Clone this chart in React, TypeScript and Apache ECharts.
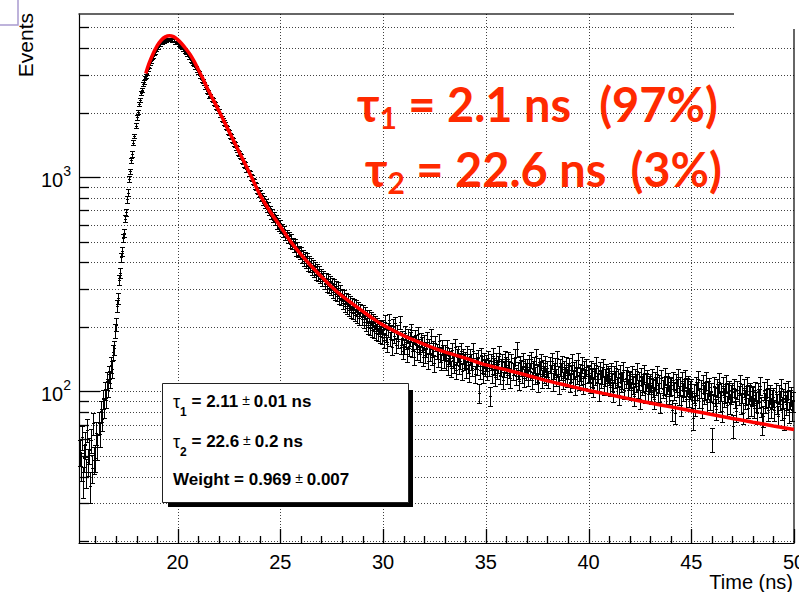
import React, { useEffect, useRef } from "react";
import * as echarts from "echarts";

// ---- axis ranges ----
const X_MIN = 15.2;
const X_MAX = 50;
const Y_MIN = 19.6;
const Y_MAX = 5780;

// ---- histogram (bin centres start at binStart, width binWidth) ----
const binStart = 15.25;
const binWidth = 0.05;
// 15.25 – 20.95 ns
const countsRise = [
  52, 45, 61, 38, 49, 57, 42, 66, 47, 53, 36, 59, 44, 71, 48,
  49, 64, 55, 72, 63, 81, 74, 92, 84, 101, 93, 112, 104, 121, 114, 133, 127, 152, 160, 192,
  205, 250, 272, 331, 356, 422, 451, 520, 548, 640, 688, 790, 848, 980, 1065, 1200, 1285, 1450, 1560, 1740,
  1900, 2010, 2195, 2290, 2470, 2560, 2720, 2785, 2925, 2975, 3060, 3205, 3280, 3415, 3480, 3610, 3675, 3790, 3840, 3940,
  4020, 4050, 4150, 4170, 4245, 4255, 4320, 4310, 4365, 4350, 4395, 4375, 4405, 4370, 4385, 4330, 4335, 4270, 4265, 4230,
  4230, 4150, 4140, 4060, 4050, 3960, 3945, 3850, 3840, 3745, 3725, 3630, 3615, 3515, 3490, 3385, 3360, 3265, 3245, 3160,
];
// 21.00 – 29.95 ns
const countsDecay = [
  3100, 3085, 2960, 2950, 2830, 2810, 2745, 2630, 2640, 2520, 2505, 2400, 2410, 2310, 2300, 2210, 2205, 2120, 2110, 2030,
  2035, 1960, 1945, 1880, 1855, 1800, 1770, 1715, 1695, 1640, 1620, 1570, 1550, 1500, 1480, 1435, 1415, 1370, 1355, 1310,
  1290, 1265, 1245, 1200, 1190, 1150, 1140, 1095, 1090, 1050, 1040, 1005, 995, 960, 950, 915, 905, 875, 865, 835,
  845, 800, 815, 770, 790, 745, 760, 715, 735, 690, 705, 665, 685, 645, 660, 625, 640, 600, 620, 585,
  605, 570, 580, 548, 566, 530, 546, 517, 531, 490, 520, 483, 498, 470, 492, 452, 478, 447, 455, 436,
  450, 418, 437, 405, 428, 398, 420, 386, 408, 380, 398, 370, 390, 360, 383, 350, 374, 345, 366, 338,
  355, 328, 346, 318, 340, 310, 335, 305, 327, 298, 320, 290, 316, 284, 310, 280, 305, 272, 298, 270,
  285, 258, 280, 250, 272, 246, 268, 240, 262, 236, 258, 232, 255, 228, 250, 224, 245, 220, 240, 218,
  238, 212, 232, 205, 226, 200, 224, 197, 219, 194, 214, 191, 210, 188, 206, 185, 202, 182, 199, 180,
];
// 30.00 – 49.95 ns
const countsTail = [
  201, 173, 212, 183, 166, 194, 216, 176, 190, 161, 203, 181, 208, 164, 190, 172, 210, 162, 178, 154,
  163, 188, 170, 149, 182, 159, 176, 193, 157, 168, 145, 180, 171, 153, 186, 162, 150, 175, 166, 144,
  170, 148, 158, 176, 139, 163, 151, 182, 145, 160, 135, 168, 154, 142, 172, 149, 137, 161, 153, 141,
  152, 138, 161, 131, 147, 143, 128, 156, 140, 134, 162, 126, 145, 150, 132, 139, 155, 124, 146, 137,
  141, 127, 150, 133, 122, 146, 137, 129, 155, 120, 139, 131, 144, 98, 126, 148, 134, 121, 140, 130,
  136, 124, 143, 129, 95, 138, 120, 147, 131, 117, 140, 126, 134, 151, 119, 130, 137, 113, 128, 142,
  133, 119, 141, 127, 115, 137, 124, 131, 145, 118, 158, 126, 112, 135, 129, 121, 139, 116, 130, 124,
  130, 117, 136, 124, 141, 113, 127, 133, 119, 146, 122, 110, 132, 126, 138, 115, 129, 121, 135, 118,
  128, 114, 133, 122, 139, 111, 125, 131, 117, 143, 120, 108, 130, 124, 135, 113, 127, 119, 133, 116,
  125, 131, 110, 122, 137, 114, 126, 106, 129, 119, 140, 112, 123, 118, 133, 108, 127, 115, 130, 121,
  122, 109, 128, 116, 104, 125, 118, 133, 111, 121, 100, 126, 114, 119, 130, 106, 117, 123, 109, 120,
  118, 105, 124, 111, 99, 120, 114, 128, 107, 116, 96, 122, 110, 113, 126, 102, 115, 119, 104, 112,
  114, 101, 120, 108, 95, 117, 110, 124, 103, 112, 92, 118, 106, 110, 122, 98, 111, 115, 100, 108,
  110, 97, 116, 104, 92, 113, 107, 121, 99, 109, 89, 115, 103, 107, 118, 95, 108, 111, 97, 105,
  107, 82, 113, 101, 79, 110, 104, 117, 96, 106, 86, 112, 100, 104, 115, 92, 105, 108, 94, 102,
  104, 91, 75, 98, 86, 107, 101, 114, 93, 103, 84, 109, 97, 101, 112, 89, 102, 105, 91, 99,
  60, 88, 106, 95, 83, 104, 98, 111, 90, 100, 81, 106, 94, 98, 109, 86, 99, 102, 88, 97,
  99, 69, 104, 93, 81, 102, 96, 109, 88, 98, 79, 104, 92, 96, 107, 84, 97, 100, 86, 95,
  96, 84, 101, 90, 79, 99, 93, 106, 85, 71, 77, 101, 89, 93, 104, 82, 94, 97, 84, 92,
  94, 82, 99, 88, 77, 97, 91, 104, 83, 93, 75, 99, 87, 91, 102, 80, 92, 95, 82, 90,
];

// ---- fit curve ----
const fitTime = [
  18.45, 18.6, 18.8, 19.0, 19.2, 19.4, 19.6, 19.8, 20.0, 20.2, 20.4, 20.6, 20.8,
  21.0, 21.2, 21.5, 22.0, 22.5, 23.0, 23.5, 24.0, 24.5, 25.0, 25.5, 26.0, 26.5,
  27.0, 27.5, 28.0, 28.5, 29.0, 29.5, 30, 31, 32, 33, 34, 35, 36, 37, 38, 39,
  40, 41, 42, 43, 44, 45, 46, 47, 48, 49, 50,
];
const fitValue = [
  3050, 3380, 3760, 4100, 4360, 4520, 4580, 4530, 4390, 4200, 3980, 3750, 3480,
  3190, 2920, 2540, 2050, 1637, 1309, 1047, 832, 692, 589, 501, 436, 385,
  343, 307, 279, 257, 237, 219, 204, 182, 166, 153, 143, 133, 126, 119, 112, 106.4,
  101, 96.6, 92.3, 88.3, 84.7, 81.3, 78, 74.8, 71.8, 69, 66.4,
];

// ---- ticks / grid ----
const xTickLabels = [20, 25, 30, 35, 40, 45];
const xEdgeLabel = 50;
const xMajorTicks = [20, 25, 30, 35, 40, 45, 50];
const xGridValues = [20, 25, 30, 35, 40, 45];
const xMinorTicks = [16, 17, 18, 19, 21, 22, 23, 24, 26, 27, 28, 29, 31, 32, 33, 34, 36, 37, 38, 39, 41, 42, 43, 44, 46, 47, 48, 49];
const yTickLabels = [100, 1000];
const yGridValues = [20, 30, 40, 50, 60, 70, 80, 90, 100, 200, 300, 400, 500, 600, 700, 800, 900, 1000, 2000, 3000, 4000, 5000];

const FONT = "'Liberation Sans', Arial, Helvetica, sans-serif";
const RED_FONT = "Lato, 'DejaVu Sans', sans-serif";
const RED = "#ff2a00";

export default function App() {
  const ref = useRef<HTMLDivElement>(null);

  useEffect(() => {
    if (!ref.current) return;
    const chart = echarts.init(ref.current, undefined, { renderer: "svg" });

    const counts = [...countsRise, ...countsDecay, ...countsTail];
    const histData = counts.map((c, i) => [+(binStart + i * binWidth).toFixed(3), c]);
    const fitData = fitTime.map((t, i) => [t, fitValue[i]]);

    const gridRender = (_p: any, api: any) => {
      const bl = api.coord([X_MIN, Y_MIN]);
      const tr = api.coord([X_MAX, Y_MAX]);
      const st = { stroke: "#000", lineWidth: 1, lineDash: [1, 2], opacity: 0.75 };
      const children: any[] = [];
      for (const v of yGridValues) {
        const y = Math.round(api.coord([X_MIN, v])[1]) + 0.5;
        children.push({ type: "line", shape: { x1: bl[0], y1: y, x2: tr[0], y2: y }, style: st });
      }
      for (const v of xGridValues) {
        const x = Math.round(api.coord([v, Y_MIN])[0]) + 0.5;
        children.push({ type: "line", shape: { x1: x, y1: bl[1], x2: x, y2: tr[1] }, style: st });
      }
      return { type: "group", children };
    };

    const tickRender = (_p: any, api: any) => {
      const bl = api.coord([X_MIN, Y_MIN]);
      const st = { stroke: "#000", lineWidth: 1.3 };
      const children: any[] = [];
      for (const v of yGridValues) {
        const y = Math.round(api.coord([X_MIN, v])[1]) + 0.5;
        const len = yTickLabels.includes(v) ? 21 : 10;
        children.push({ type: "line", shape: { x1: bl[0], y1: y, x2: bl[0] + len, y2: y }, style: st });
      }
      for (const v of xMajorTicks) {
        const x = Math.round(api.coord([v, Y_MIN])[0]) + 0.5;
        children.push({ type: "line", shape: { x1: x, y1: bl[1], x2: x, y2: bl[1] - 14 }, style: st });
      }
      for (const v of xMinorTicks) {
        const x = Math.round(api.coord([v, Y_MIN])[0]) + 0.5;
        children.push({ type: "line", shape: { x1: x, y1: bl[1], x2: x, y2: bl[1] - 7 }, style: st });
      }
      const e = api.coord([xEdgeLabel, Y_MIN]);
      children.push({
        type: "text", x: e[0], y: bl[1] + 9,
        style: { text: String(xEdgeLabel), fontFamily: FONT, fontSize: 20, fill: "#000", align: "center", verticalAlign: "top" },
      });
      return { type: "group", children };
    };

    const errRender = (_p: any, api: any) => {
      const x = api.value(0);
      const v = api.value(1);
      const e = Math.sqrt(v);
      const c = api.coord([x, v]);
      const top = api.coord([x, v + e]);
      const bot = api.coord([x, v - e]);
      const cx = Math.round(c[0]) + 0.5;
      const ty = Math.round(top[1]) + 0.5;
      const by = Math.round(bot[1]) + 0.5;
      const cy = Math.round(c[1]) + 0.5;
      const cap = 2.5;
      const st = { stroke: "#000", lineWidth: 1 };
      return {
        type: "group",
        children: [
          { type: "line", shape: { x1: cx, y1: ty, x2: cx, y2: by }, style: st },
          { type: "line", shape: { x1: cx - cap, y1: ty, x2: cx + cap, y2: ty }, style: st },
          { type: "line", shape: { x1: cx - cap, y1: by, x2: cx + cap, y2: by }, style: st },
          { type: "line", shape: { x1: cx - 1.5, y1: cy, x2: cx + 1.5, y2: cy }, style: st },
        ],
      };
    };

    const statBase = { fontFamily: FONT, fontSize: 17, fontWeight: "bold", fill: "#000", lineHeight: 20, verticalAlign: "top" };
    const statRich = {
      b: statBase,
      tau: { ...statBase, fontWeight: "normal", fontSize: 18 },
      sub: { ...statBase, fontSize: 12, lineHeight: 25, verticalAlign: "bottom" },
      pm: { ...statBase, fontWeight: "normal", fontSize: 14 },
    };

    const bigBase = { fontFamily: RED_FONT, fontSize: 47, fontWeight: "bold", fill: RED, lineHeight: 52, verticalAlign: "top" };
    const bigRich = {
      m: bigBase,
      s: { ...bigBase, fontSize: 30, lineHeight: 52, verticalAlign: "bottom" },
    };

    chart.setOption({
      animation: false,
      grid: { left: 79, right: 5, top: 14, bottom: 49 },
      xAxis: [
        {
          type: "value", min: X_MIN, max: X_MAX, position: "bottom",
          axisLine: { show: true, lineStyle: { color: "#000", width: 1.2 } },
          axisTick: { show: false }, splitLine: { show: false },
          axisLabel: { customValues: xTickLabels, fontSize: 20, color: "#000", fontFamily: FONT, margin: 9 },
        },
        {
          type: "value", min: X_MIN, max: X_MAX, position: "top",
          axisLine: { show: true, lineStyle: { color: "#333", width: 1.5 } },
          axisTick: { show: false }, splitLine: { show: false }, axisLabel: { show: false },
        },
      ],
      yAxis: [
        {
          type: "log", logBase: 10, min: Y_MIN, max: Y_MAX, position: "left",
          axisLine: { show: true, lineStyle: { color: "#000", width: 1.2 } },
          axisTick: { show: false }, splitLine: { show: false },
          axisLabel: {
            customValues: yTickLabels, margin: 8, color: "#000",
            formatter: (v: number) => `{b|10}{s|${Math.round(Math.log10(v))}}`,
            rich: {
              b: { fontSize: 20, fontFamily: FONT, color: "#000", lineHeight: 26, verticalAlign: "bottom" },
              s: { fontSize: 14, fontFamily: FONT, color: "#000", lineHeight: 12, verticalAlign: "top" },
            },
          },
        },
        {
          type: "log", logBase: 10, min: Y_MIN, max: Y_MAX, position: "right",
          axisLine: { show: true, lineStyle: { color: "#333", width: 1.5 } },
          axisTick: { show: false }, splitLine: { show: false }, axisLabel: { show: false },
        },
      ],
      series: [
        { type: "custom", name: "grid", silent: true, z: 1, xAxisIndex: 0, yAxisIndex: 0, data: [[30, 100]], renderItem: gridRender },
        { type: "custom", name: "data", silent: true, z: 3, xAxisIndex: 0, yAxisIndex: 0, data: histData, renderItem: errRender },
        {
          type: "line", name: "fit", z: 4, xAxisIndex: 0, yAxisIndex: 0, data: fitData,
          smooth: 0.3, showSymbol: false, symbol: "none",
          lineStyle: { color: "#ff0000", width: 3.5 },
        },
        { type: "custom", name: "ticks", silent: true, z: 5, xAxisIndex: 0, yAxisIndex: 0, data: [[30, 100]], renderItem: tickRender },
      ],
      graphic: [
        { type: "rect", z: 100, shape: { x: 734, y: 0, width: 65, height: 29 }, style: { fill: "#fff" } },
        { type: "polyline", z: 100, shape: { points: [[18, 0], [18, 25], [0, 25]] }, style: { stroke: "#a99bd0", lineWidth: 1.5, fill: "none" } },
        { type: "rect", z: 100, shape: { x: 168, y: 390, width: 245, height: 117 }, style: { fill: "#000" } },
        { type: "rect", z: 101, shape: { x: 162.5, y: 383.5, width: 246, height: 119 }, style: { fill: "#fff", stroke: "#222", lineWidth: 1 } },
        { type: "text", z: 102, x: 173, y: 393, style: { text: "{tau|τ}{sub|1}{b| = 2.11}{pm| ± }{b|0.01 ns}", rich: statRich, verticalAlign: "top" } },
        { type: "text", z: 102, x: 173, y: 433, style: { text: "{tau|τ}{sub|2}{b| = 22.6}{pm| ± }{b|0.2 ns}", rich: statRich, verticalAlign: "top" } },
        { type: "text", z: 102, x: 173, y: 471, style: { text: "{b|Weight = 0.969}{pm| ± }{b|0.007}", rich: statRich, verticalAlign: "top" } },
        { type: "text", z: 102, x: 357, y: 80, style: { text: "{m|τ}{s|1}{m| = 2.1 ns}", rich: bigRich, verticalAlign: "top" } },
        { type: "text", z: 102, x: 718, y: 80, style: { text: "{m|(97%)}", rich: bigRich, align: "right", verticalAlign: "top" } },
        { type: "text", z: 102, x: 365, y: 145, style: { text: "{m|τ}{s|2}{m| = 22.6 ns}", rich: bigRich, verticalAlign: "top" } },
        { type: "text", z: 102, x: 722, y: 145, style: { text: "{m|(3%)}", rich: bigRich, align: "right", verticalAlign: "top" } },
        { type: "text", z: 102, x: 793, y: 582, style: { text: "Time (ns)", fontFamily: FONT, fontSize: 20, fill: "#000", align: "right", verticalAlign: "middle" } },
        { type: "text", z: 102, x: 25, y: 13, rotation: Math.PI / 2, style: { text: "Events", fontFamily: FONT, fontSize: 21, fill: "#000", align: "right", verticalAlign: "middle" } },
      ],
    });

    return () => chart.dispose();
  }, []);

  return (
    <div style={{ position: "absolute", left: 0, top: 0, width: 799, height: 592, background: "#fff" }}>
      <div ref={ref} style={{ width: 799, height: 592 }} />
    </div>
  );
}
